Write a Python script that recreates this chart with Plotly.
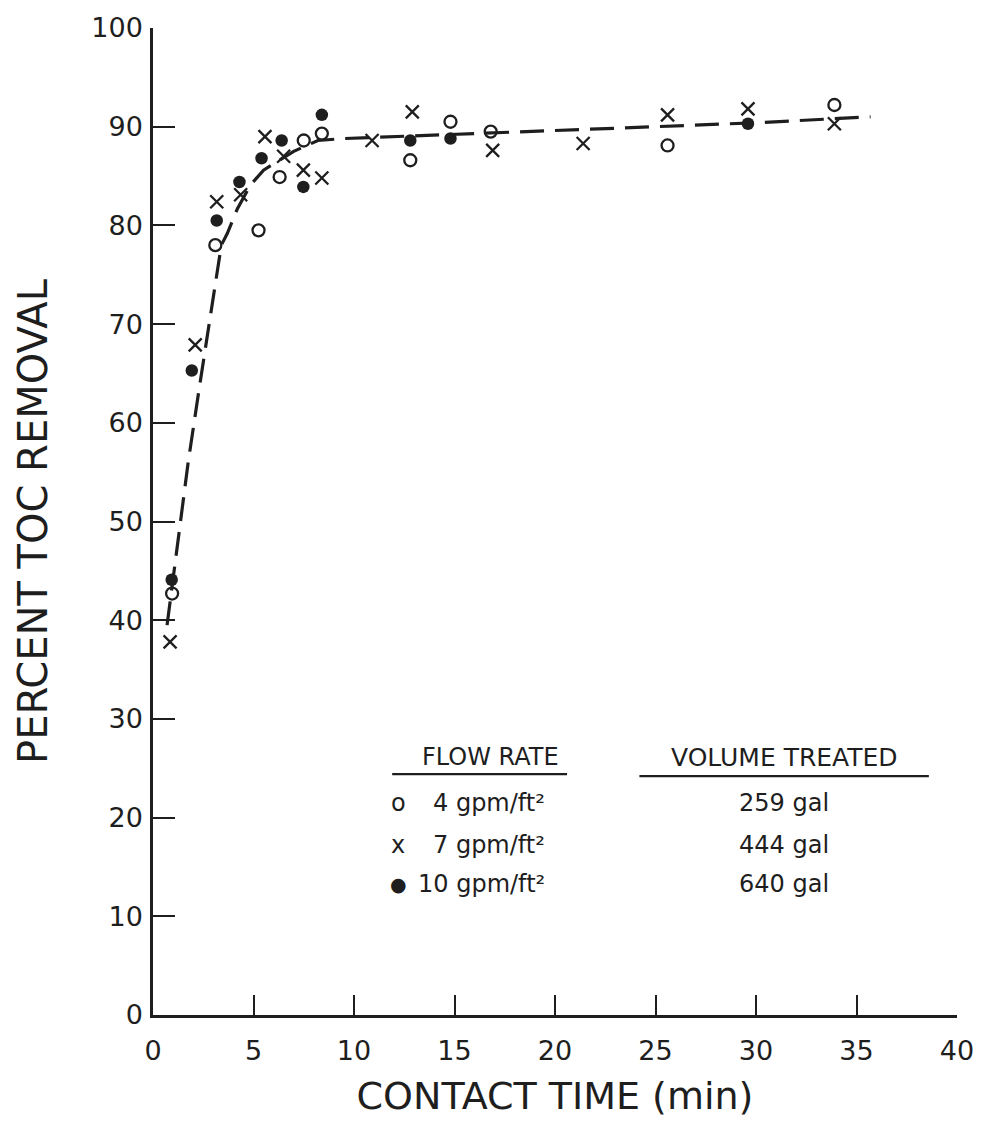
import plotly.graph_objects as go

# ---- data ----
x_4gpm = [0.95, 3.1, 5.25, 6.3, 7.5, 8.4, 12.8, 14.8, 16.8, 25.6, 33.9]
y_4gpm = [42.7, 78.0, 79.5, 84.9, 88.6, 89.3, 86.6, 90.5, 89.5, 88.1, 92.2]

x_7gpm = [0.85, 2.1, 3.17, 4.36, 5.57, 6.5, 7.48, 8.4, 10.9, 12.9, 16.9, 21.4, 25.6, 29.6, 33.9]
y_7gpm = [37.8, 67.9, 82.4, 83.1, 89.0, 87.0, 85.6, 84.8, 88.6, 91.5, 87.6, 88.3, 91.2, 91.8, 90.3]

x_10gpm = [0.93, 1.93, 3.17, 4.3, 5.4, 6.4, 7.48, 8.4, 12.8, 14.8, 29.6]
y_10gpm = [44.1, 65.3, 80.5, 84.4, 86.8, 88.6, 83.9, 91.2, 88.6, 88.8, 90.3]

curve_x = [0.7, 1.2, 1.75, 2.3, 2.85, 3.4, 3.7, 4.2, 4.85, 5.5, 7.0, 8.2, 9.5, 15, 20, 25, 30, 35.7]
curve_y = [39.5, 47.5, 56.0, 63.5, 70.5, 78.0, 79.2, 81.7, 84.1, 85.6, 87.5, 88.6, 88.8, 89.2, 89.6, 90.0, 90.4, 91.0]

x_ticks = [0, 5, 10, 15, 20, 25, 30, 35, 40]
y_ticks = [0, 10, 20, 30, 40, 50, 60, 70, 80, 90, 100]

flow_rates = ["4 gpm/ft²", "7 gpm/ft²", "10 gpm/ft²"]
volumes = ["259 gal", "444 gal", "640 gal"]
legend_glyphs = ["o", "x", "●"]

INK = "#1e1e1e"
FONT = "DejaVu Sans"

fig = go.Figure()

fig.add_trace(go.Scatter(
    x=curve_x, y=curve_y, mode="lines",
    line=dict(color=INK, width=3.2, dash="24px,11px"),
    hoverinfo="skip", showlegend=False))

fig.add_trace(go.Scatter(
    x=x_4gpm, y=y_4gpm, mode="markers", name="4 gpm/ft²",
    marker=dict(symbol="circle-open", size=12, color=INK, line=dict(width=2.3, color=INK)),
    showlegend=False))
fig.add_trace(go.Scatter(
    x=x_7gpm, y=y_7gpm, mode="markers", name="7 gpm/ft²",
    marker=dict(symbol="x-thin-open", size=13, color=INK, line=dict(width=2.3, color=INK)),
    showlegend=False))
fig.add_trace(go.Scatter(
    x=x_10gpm, y=y_10gpm, mode="markers", name="10 gpm/ft²",
    marker=dict(symbol="circle", size=12.5, color=INK, line=dict(width=0)),
    showlegend=False))

# ---- legend table as text ----
ann = []
ann.append(dict(x=16.8, y=26.1, text="FLOW RATE", showarrow=False, xanchor="center", yanchor="middle",
                font=dict(family=FONT, size=24, color=INK)))
ann.append(dict(x=31.4, y=26.1, text="VOLUME TREATED", showarrow=False, xanchor="center", yanchor="middle",
                font=dict(family=FONT, size=25, color=INK)))
row_y = [21.5, 17.2, 13.3]
glyph_sizes = [24, 24, 19]
for gl, gs, fr, vol, yy in zip(legend_glyphs, glyph_sizes, flow_rates, volumes, row_y):
    ann.append(dict(x=12.2, y=yy, text=gl, showarrow=False, xanchor="center", yanchor="middle",
                    font=dict(family=FONT, size=gs, color=INK)))
    ann.append(dict(x=19.6, y=yy, text=fr, showarrow=False, xanchor="right",
                    yanchor="middle", font=dict(family=FONT, size=24, color=INK)))
    ann.append(dict(x=31.4, y=yy, text=vol, showarrow=False, xanchor="center", yanchor="middle",
                    font=dict(family=FONT, size=24, color=INK)))

shapes = [
    dict(type="line", x0=11.9, x1=20.6, y0=24.4, y1=24.4, line=dict(color=INK, width=2.2)),
    dict(type="line", x0=24.2, x1=38.6, y0=24.2, y1=24.2, line=dict(color=INK, width=2.2)),
]

fig.update_layout(
    width=989, height=1129,
    margin=dict(l=153, r=32, t=28, b=114),
    paper_bgcolor="white", plot_bgcolor="white",
    font=dict(family=FONT, color=INK),
    annotations=ann, shapes=shapes,
    xaxis=dict(
        range=[0, 40], tickvals=x_ticks, ticktext=[str(v) for v in x_ticks],
        showgrid=False, zeroline=False, showline=True, linecolor=INK, linewidth=2.5,
        ticks="inside", ticklen=20, tickwidth=2.2, tickcolor=INK,
        tickfont=dict(family=FONT, size=27, color=INK), ticklabelstandoff=10,
        title=dict(text="CONTACT TIME (min)", font=dict(family=FONT, size=38, color=INK), standoff=18),
        fixedrange=True),
    yaxis=dict(
        range=[0, 100], tickvals=y_ticks, ticktext=[str(v) for v in y_ticks],
        showgrid=False, zeroline=False, showline=True, linecolor=INK, linewidth=2.5,
        ticks="inside", ticklen=22, tickwidth=2.2, tickcolor=INK,
        tickfont=dict(family=FONT, size=27, color=INK), ticklabelstandoff=2,
        title=dict(text="PERCENT TOC REMOVAL", font=dict(family=FONT, size=40, color=INK), standoff=32),
        fixedrange=True),
)

fig.write_html("out.html")
